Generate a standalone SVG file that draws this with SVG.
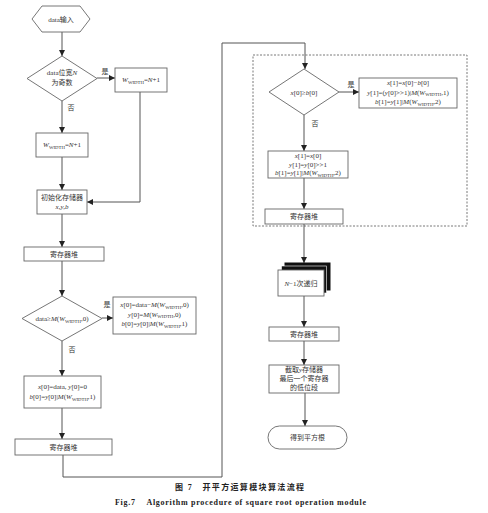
<svg xmlns="http://www.w3.org/2000/svg" width="488" height="513" viewBox="0 0 488 513">
<defs>
<marker id="ah" viewBox="0 0 6 6" refX="6" refY="3" markerWidth="6" markerHeight="6" markerUnits="userSpaceOnUse" orient="auto">
<path d="M0,0 L6,3 L0,6 Z" fill="#222"/>
</marker>
<style>
.s{fill:#fff;stroke:#666;stroke-width:0.9}
.c{fill:none;stroke:#555;stroke-width:1}
.t{font-family:"Liberation Serif","Noto Sans CJK SC",serif;font-size:7px;fill:#333;text-anchor:middle}
.i{font-style:italic;fill:#333}
.sub{font-size:4.8px;fill:#333}
.cap{font-family:"Liberation Serif","Noto Sans CJK SC",serif;font-size:8px;fill:#222;font-weight:bold}
</style>
</defs>
<rect width="488" height="513" fill="#fff"/>

<g id="connectors">
<path class="c" d="M62,32 V56" marker-end="url(#ah)"/>
<path class="c" d="M97,78 H115" marker-end="url(#ah)"/>
<path class="c" d="M62,101 V133" marker-end="url(#ah)"/>
<path class="c" d="M62,157 V190" marker-end="url(#ah)"/>
<path class="c" d="M140,92 V202 H87" marker-end="url(#ah)"/>
<path class="c" d="M62,214 V247" marker-end="url(#ah)"/>
<path class="c" d="M62,261 V296" marker-end="url(#ah)"/>
<path class="c" d="M102,318 H113" marker-end="url(#ah)"/>
<path class="c" d="M62,341 V376" marker-end="url(#ah)"/>
<path class="c" d="M62,408 V439" marker-end="url(#ah)"/>
<path class="c" d="M63,455 V477 H222 V43 H305 V69" marker-end="url(#ah)"/>
<path class="c" d="M339,92 H359" marker-end="url(#ah)"/>
<path class="c" d="M304,115 V151" marker-end="url(#ah)"/>
<path class="c" d="M304,178 V209" marker-end="url(#ah)"/>
<path class="c" d="M304,224 V263" marker-end="url(#ah)"/>
<path class="c" d="M304,296 V327" marker-end="url(#ah)"/>
<path class="c" d="M304,341 V365" marker-end="url(#ah)"/>
<path class="c" d="M305,393 V426" marker-end="url(#ah)"/>
<text class="t" x="105" y="74">是</text>
<text class="t" x="71" y="110">否</text>
<text class="t" x="107" y="307">是</text>
<text class="t" x="72" y="352">否</text>
<text class="t" x="351" y="87">是</text>
<text class="t" x="315" y="126">否</text>
</g>

<g id="loop-region">
<rect x="253" y="55" width="214" height="171" fill="none" stroke="#555" stroke-width="0.8" stroke-dasharray="2,1.5"/>
</g>

<g id="start">
<polygon class="s" points="32,19 42,6 80,6 90,19 80,32 42,32"/>
<text class="t" x="61" y="21.5">data输入</text>
</g>

<g id="odd-check">
<polygon class="s" points="62,56 97,78.5 62,101 27,78.5"/>
<text class="t" x="62" y="75">data位宽<tspan class="i">N</tspan></text>
<text class="t" x="62" y="85">为奇数</text>
</g>

<g id="width-yes">
<rect class="s" x="115" y="68" width="52" height="24"/>
<text class="t" x="141" y="82"><tspan class="i">W</tspan><tspan class="sub" dy="1.5">WIDTH</tspan><tspan dy="-1.5">=</tspan><tspan class="i">N</tspan>+1</text>
</g>

<g id="width-no">
<rect class="s" x="36" y="133" width="52" height="24"/>
<text class="t" x="62" y="147"><tspan class="i">W</tspan><tspan class="sub" dy="1.5">WIDTH</tspan><tspan dy="-1.5">=</tspan><tspan class="i">N</tspan>+1</text>
</g>

<g id="init">
<rect class="s" x="37" y="190" width="50" height="24"/>
<text class="t" x="62" y="200">初始化存储器</text>
<text class="t i" x="62" y="209">x,y,b</text>
</g>

<g id="reg1">
<rect class="s" x="24" y="247" width="80" height="14"/>
<text class="t" x="64" y="256.5">寄存器堆</text>
</g>

<g id="cmp0">
<polygon class="s" points="62,296 102,318.5 62,341 22,318.5"/>
<text class="t" x="62" y="321">data≥<tspan class="i">M</tspan>(<tspan class="i">W</tspan><tspan class="sub" dy="1.5">WIDTH</tspan><tspan dy="-1.5">,0)</tspan></text>
</g>

<g id="yes0">
<rect class="s" x="113" y="297" width="83" height="37"/>
<text class="t" x="154.5" y="307"><tspan class="i">x</tspan>[0]=data−<tspan class="i">M</tspan>(<tspan class="i">W</tspan><tspan class="sub" dy="1.5">WIDTH</tspan><tspan dy="-1.5">,0)</tspan></text>
<text class="t" x="154.5" y="316.5"><tspan class="i">y</tspan>[0]=<tspan class="i">M</tspan>(<tspan class="i">W</tspan><tspan class="sub" dy="1.5">WIDTH</tspan><tspan dy="-1.5">,0)</tspan></text>
<text class="t" x="154.5" y="326"><tspan class="i">b</tspan>[0]=<tspan class="i">y</tspan>[0]|<tspan class="i">M</tspan>(<tspan class="i">W</tspan><tspan class="sub" dy="1.5">WIDTH</tspan><tspan dy="-1.5">,1)</tspan></text>
</g>

<g id="no0">
<rect class="s" x="24" y="376" width="77" height="32"/>
<text class="t" x="62.5" y="389"><tspan class="i">x</tspan>[0]=data, <tspan class="i">y</tspan>[0]=0</text>
<text class="t" x="62.5" y="399"><tspan class="i">b</tspan>[0]=<tspan class="i">y</tspan>[0]|<tspan class="i">M</tspan>(<tspan class="i">W</tspan><tspan class="sub" dy="1.5">WIDTH</tspan><tspan dy="-1.5">,1)</tspan></text>
</g>

<g id="reg2">
<rect class="s" x="15" y="439" width="97" height="16"/>
<text class="t" x="63.5" y="449.5">寄存器堆</text>
</g>

<g id="cmp1">
<polygon class="s" points="304,69 339,92 304,115 269,92"/>
<text class="t" x="304" y="94.5"><tspan class="i">x</tspan>[0]≥<tspan class="i">b</tspan>[0]</text>
</g>

<g id="yes1">
<rect class="s" x="359" y="78" width="98" height="30"/>
<text class="t" x="408" y="85"><tspan class="i">x</tspan>[1]=<tspan class="i">x</tspan>[0]−<tspan class="i">b</tspan>[0]</text>
<text class="t" x="408" y="94.5"><tspan class="i">y</tspan>[1]=(<tspan class="i">y</tspan>[0]&gt;&gt;1)|<tspan class="i">M</tspan>(<tspan class="i">W</tspan><tspan class="sub" dy="1.5">WIDTH</tspan><tspan dy="-1.5">,1)</tspan></text>
<text class="t" x="408" y="104"><tspan class="i">b</tspan>[1]=<tspan class="i">y</tspan>[1]|<tspan class="i">M</tspan>(<tspan class="i">W</tspan><tspan class="sub" dy="1.5">WIDTH</tspan><tspan dy="-1.5">,2)</tspan></text>
</g>

<g id="no1">
<rect class="s" x="268" y="151" width="80" height="27"/>
<text class="t" x="308" y="158"><tspan class="i">x</tspan>[1]=<tspan class="i">x</tspan>[0]</text>
<text class="t" x="308" y="166.5"><tspan class="i">y</tspan>[1]=<tspan class="i">y</tspan>[0]&gt;&gt;1</text>
<text class="t" x="308" y="175"><tspan class="i">b</tspan>[1]=<tspan class="i">y</tspan>[1]|<tspan class="i">M</tspan>(<tspan class="i">W</tspan><tspan class="sub" dy="1.5">WIDTH</tspan><tspan dy="-1.5">,2)</tspan></text>
</g>

<g id="reg3">
<rect class="s" x="265" y="209" width="78" height="15"/>
<text class="t" x="304" y="219">寄存器堆</text>
</g>

<g id="recursion">
<rect x="285" y="263" width="45" height="27" fill="#111" stroke="#111"/>
<rect x="281.5" y="266" width="45" height="27" fill="#111" stroke="#fff" stroke-width="0.6"/>
<rect class="s" x="278" y="270" width="46" height="26"/>
<text class="t" x="301" y="285.5"><tspan class="i">N</tspan>−1次递归</text>
</g>

<g id="reg4">
<rect class="s" x="269" y="327" width="70" height="14"/>
<text class="t" x="304" y="336.5">寄存器堆</text>
</g>

<g id="extract">
<rect class="s" x="269" y="365" width="70" height="28"/>
<text class="t" x="304" y="372">截取<tspan class="i">y</tspan>存储器</text>
<text class="t" x="304" y="381">最后一个寄存器</text>
<text class="t" x="304" y="390">的低位段</text>
</g>

<g id="end">
<rect class="s" x="268" y="426" width="79" height="23" rx="11.5" ry="11.5"/>
<text class="t" x="307.5" y="440">得到平方根</text>
</g>

<text class="cap" x="175" y="490" textLength="129" lengthAdjust="spacing">图 7　开平方运算模块算法流程</text>
<text class="cap" x="115" y="505" textLength="251" lengthAdjust="spacing">Fig.7&#160;&#160;&#160;&#160;Algorithm procedure of square root operation module</text>
</svg>
